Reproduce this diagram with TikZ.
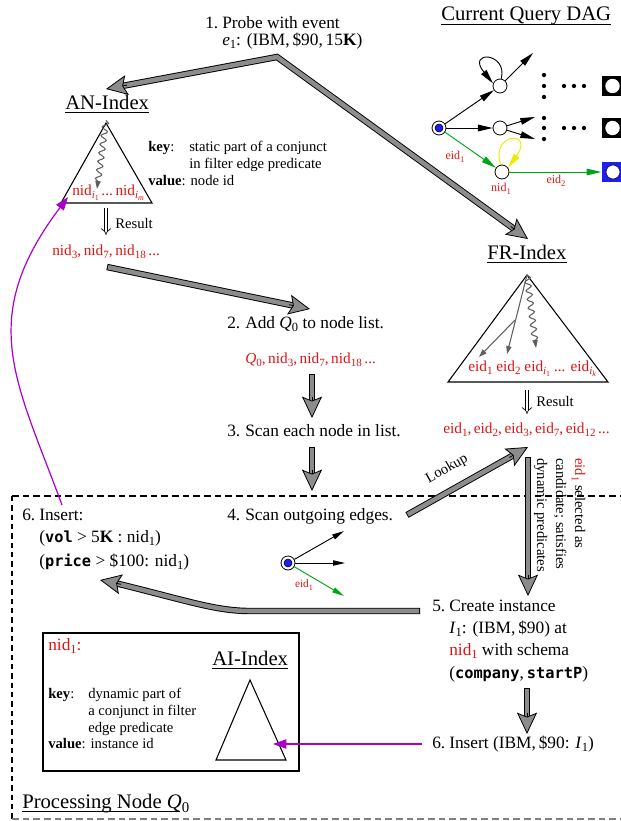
\documentclass[tikz,border=0pt]{standalone}
\usepackage{fontspec}
\usepackage{graphicx}
\setmainfont{Liberation Serif}
\newfontfamily\codefont{DejaVu Sans Mono}
\usetikzlibrary{arrows.meta,calc,decorations.pathmorphing}
\definecolor{tred}{RGB}{222,20,20}
\definecolor{fatgray}{RGB}{140,140,140}
\definecolor{mag}{RGB}{170,0,200}
\definecolor{dgreen}{RGB}{0,165,20}
\definecolor{dblue}{RGB}{30,30,240}
\definecolor{ylw}{RGB}{235,235,0}
\definecolor{wgray}{RGB}{95,95,95}
\newcommand\sbs[1]{\raisebox{-0.45ex}{\scalebox{0.72}{#1}}}
\newcommand\code[1]{{\codefont\bfseries\fontsize{11.5}{13}\selectfont #1}}
\tikzset{
  fatout/.style={line width=4.8pt, black, line join=miter},
  fatin/.style={line width=3.4pt, fatgray, line join=miter},
  fathead/.style={line width=0.6pt, draw=black, -{Stealth[length=16pt, width=15pt, inset=3pt, fill=fatgray]}},
  txt/.style={anchor=base west, inner sep=0, font=\fontsize{13}{15}\selectfont},
  sml/.style={anchor=base west, inner sep=0, font=\fontsize{11}{13}\selectfont},
  rot/.style={anchor=base west, inner sep=0, rotate=-90, font=\fontsize{11}{13}\selectfont},
  hd/.style={anchor=base west, inner sep=0, font=\fontsize{15.5}{18}\selectfont},
  redl/.style={anchor=base west, inner sep=0, text=tred, font=\fontsize{11.5}{13}\selectfont},
  tiny/.style={inner sep=0, text=tred, font=\fontsize{9}{10}\selectfont},
  dagnode/.style={circle, draw, fill=white, minimum size=10.5pt, inner sep=0, line width=0.6pt},
  dagarr/.style={line width=0.7pt, -{Triangle[length=11pt,width=5pt]}},
  smallarr/.style={line width=0.7pt, -{Triangle[length=9pt,width=4pt]}},
  treearr/.style={wgray, line width=0.8pt, -{Triangle[length=6pt,width=4pt]}},
  wavy/.style={wgray, line width=0.8pt, decorate, decoration={snake, amplitude=2.2pt, segment length=6.5pt, post length=5pt}, -{Triangle[length=6pt,width=4pt]}},
  magarr/.style={mag, line width=0.9pt, -{Triangle[length=10pt,width=7pt]}},
  tri/.style={line width=0.8pt, line join=miter},
  dbl/.style={double, double distance=2.2pt, line width=0.5pt, -{Implies}},
  dot/.style={circle, fill=black, inner sep=0, minimum size=3.2pt}
}
\newcommand\fatline[2]{%
  \draw[fatout] (#1) -- ($(#2)!12pt!(#1)$);
  \draw[fatin, shorten <=0.7pt] (#1) -- ($(#2)!12pt!(#1)$);
  \draw[fathead] ($(#2)!16pt!(#1)$) -- (#2);}
\newcommand\hdline[1]{\draw[line width=1.3pt] ([yshift=-2.7pt]#1.base west) -- ([yshift=-2.7pt]#1.base east);}
\begin{document}
\begin{tikzpicture}[x=0.75pt, y=-0.75pt]
\useasboundingbox (0,0) rectangle (621,821);

% ---------- headings ----------
\node[hd] (hdag) at (441,21) {Current Query DAG}; \hdline{hdag}
\node[hd] (han) at (65,109) {AN-Index}; \hdline{han}
\node[hd] (hfr) at (487,259) {FR-Index}; \hdline{hfr}
\node[hd] (hai) at (212,665) {AI-Index}; \hdline{hai}
\node[hd] (hpn) at (22,808) {Processing Node \textit{Q}\sbs{0}};
\draw[line width=1.3pt] ([yshift=-2.7pt]hpn.base west) -- ++(158,0);

% ---------- step 1 ----------
\node[txt] (s1n) at (205,28.5) {1.};
\node[txt] (s1a) at (222,28.5) {Probe with event};
\node[txt] (s1b) at (222,45) {\textit{e}\sbs{1}: (IBM,\,\$90,\,15\textbf{K})};

% ---------- AN index ----------
\coordinate (anA) at (106,123);
\coordinate (anL) at (61,203);
\coordinate (anR) at (152,203);
\draw[tri] (anA) -- (anL) -- (anR) -- cycle;
\coordinate (anw) at (97,189);
\draw[wavy] ([yshift=2]anA) -- (anw);
\node[redl] (anids) at (72,195) {nid\sbs{\textit{i}\sbs{1}}\,...\,nid\sbs{\textit{i}\sbs{\textit{m}}}};
\node[sml] (ank1) at (148,151.7) {\textbf{key}:};
\node[sml] (ank2) at (189,151.7) {static part of a conjunct};
\node[sml] (ank3) at (189,168) {in filter edge predicate};
\node[sml] (ank4) at (148,185) {\textbf{value}: node id};
\coordinate (and1) at (106,208);
\coordinate (and2) at (106,235);
\draw[dbl] (and1) -- (and2);
\node[sml] (anres) at (115,228) {Result};
\node[redl] (anlist) at (52,255) {nid\sbs{3},\,nid\sbs{7},\,nid\sbs{18}\,...};

% ---------- FR index ----------
\coordinate (frA) at (527,275);
\coordinate (frL) at (448,382);
\coordinate (frR) at (608,382);
\draw[tri] (frA) -- (frL) -- (frR) -- cycle;
\coordinate (frb) at (515,320);
\coordinate (frt1) at (479,357);
\coordinate (frt2) at (507,354);
\coordinate (frt3) at (536,348);
\draw[treearr] (frA) -- (frt2);
\draw[treearr] (frb) -- (frt1);
\draw[wavy] (frA) -- (frt3);
\node[redl] (frids) at (468,371) {eid\sbs{1} eid\sbs{2} eid\sbs{\textit{i}\sbs{1}} ... eid\sbs{\textit{i}\sbs{\textit{k}}}};
\coordinate (frd1) at (527,390);
\coordinate (frd2) at (527,414);
\draw[dbl] (frd1) -- (frd2);
\node[sml] (frres) at (536,406) {Result};
\node[redl] (frlist) at (443,433) {eid\sbs{1},\,eid\sbs{2},\,eid\sbs{3},\,eid\sbs{7},\,eid\sbs{12}\,...};

% ---------- Query DAG ----------
\node[dagnode] (root) at (439,128) {};
\fill[dblue, draw=black, line width=0.4pt] (root.center) circle (3pt);
\node[dagnode] (qa) at (500,86) {};
\node[dagnode] (qb) at (500,128) {};
\node[dagnode] (qn) at (502,172) {};
\coordinate (qa1) at (533,53);
\coordinate (qb1) at (535,117);
\coordinate (qb2) at (535,139);
\draw[dagarr] (root) -- (qa);
\draw[dagarr] (root) -- (qb);
\draw[dagarr, dgreen] (root) -- (qn);
\draw[dagarr] (qa) -- (qa1);
\draw[dagarr] (qb) -- (qb1);
\draw[dagarr] (qb) -- (qb2);
\draw[dagarr] (qa.80) .. controls (508,52) and (466,50) .. (qa.160);
\draw[dagarr, ylw] (qn.100) .. controls (490,132) and (535,130) .. (qn.35);
\foreach \yy/\nm in {75/a,86/b,97/c,118/d,128/e,139/f} {\node[dot] (vd\nm) at (544,\yy) {};}
\foreach \xx/\nm in {564/a,574/b,584/c} {\node[dot] (hd\nm) at (\xx,86) {}; \node[dot] (he\nm) at (\xx,128) {};}
\node[fill=black, minimum size=15pt, inner sep=0] (sq1) at (611.5,86) {};
\fill[white] (sq1.center) ++(1,0) circle (5.4pt);
\node[fill=black, minimum size=15pt, inner sep=0] (sq2) at (611.5,128) {};
\fill[white] (sq2.center) ++(1,0) circle (5.4pt);
\node[fill=dblue, minimum size=15pt, inner sep=0] (sq3) at (611.5,172) {};
\fill[white, draw=black, line width=0.4pt] (sq3.center) ++(1.5,0) circle (5.2pt);
\draw[dagarr, dgreen] (qn) -- (sq3.west);
\node[tiny] (le1) at (455,157) {eid\sbs{1}};
\node[tiny] (ln1) at (501,189) {nid\sbs{1}};
\node[tiny] (le2) at (556,181) {eid\sbs{2}};

% ---------- probe arrows ----------
\coordinate (pj) at (277,57);
\coordinate (pan) at (106,89);
\coordinate (pfr) at (528,239);
\draw[fatout] ($(pan)!12pt!(pj)$) -- (pj) -- ($(pfr)!12pt!(pj)$);
\draw[fatin] ($(pan)!12pt!(pj)$) -- (pj) -- ($(pfr)!12pt!(pj)$);
\draw[fathead] ($(pan)!16pt!(pj)$) -- (pan);
\draw[fathead] ($(pfr)!16pt!(pj)$) -- (pfr);

% ---------- steps 2,3 ----------
\coordinate (a2s) at (107,267);
\coordinate (a2t) at (310,309);
\fatline{a2s}{a2t}
\node[txt] (s2n) at (227,328) {2.};
\node[txt] (s2) at (245,328) {Add \textit{Q}\sbs{0} to node list.};
\node[redl] (q0list) at (245,363) {\textit{Q}\sbs{0},\,nid\sbs{3},\,nid\sbs{7},\,nid\sbs{18}\,...};
\coordinate (d1s) at (312,374);
\coordinate (d1t) at (312,418);
\fatline{d1s}{d1t}
\node[txt] (s3n) at (227,436) {3.};
\node[txt] (s3) at (245,436) {Scan each node in list.};
\coordinate (d2s) at (312,447);
\coordinate (d2t) at (312,491);
\fatline{d2s}{d2t}

% ---------- processing node frame ----------
\draw[line width=0.8pt, dash pattern=on 5pt off 3pt] (12,496) -- (621,496);
\draw[line width=0.8pt, dash pattern=on 4pt off 3pt] (12,496) -- (12,821);
\draw[line width=0.8pt, gray, dash pattern=on 5pt off 3pt] (12,819) -- (621,819);

% ---------- step 4 ----------
\node[txt] (s4n) at (227,520) {4.};
\node[txt] (s4) at (245,520) {Scan outgoing edges.};
\node[dagnode] (r4) at (288,563) {};
\fill[dblue, draw=black, line width=0.4pt] (r4.center) circle (3pt);
\coordinate (r4a) at (344,531);
\coordinate (r4b) at (345,563);
\coordinate (r4c) at (344,596);
\draw[smallarr] (r4) -- (r4a);
\draw[smallarr] (r4) -- (r4b);
\draw[smallarr, dgreen] (r4) -- (r4c);
\node[tiny, font=\fontsize{8.5}{10}\selectfont] (le4) at (304,585) {eid\sbs{1}};

% ---------- lookup ----------
\coordinate (lks) at (407,515);
\coordinate (lkt) at (528,447);
\fatline{lks}{lkt}
\node[rotate=29.3, inner sep=0, font=\fontsize{11}{13}\selectfont] (lk) at (447,469) {Lookup};

% ---------- candidate arrow ----------
\coordinate (d3s) at (528,457);
\coordinate (d3t) at (528,596);
\fatline{d3s}{d3t}
\node[rot] (cand1) at (575,458) {\textcolor{tred}{eid\sbs{1}} selected as};
\node[rot] (cand2) at (556,458) {candidate; satisfies};
\node[rot] (cand3) at (537,458) {dynamic predicates};

% ---------- step 6 left ----------
\node[txt] (s6ln) at (22,520) {6.};
\node[txt] (s6l) at (39,520) {Insert:};
\node[txt] (s6l2) at (39,542) {(\code{vol} > 5\textbf{K} : nid\sbs{1})};
\node[txt] (s6l3) at (39,566) {(\code{price} > \$100: nid\sbs{1})};

% ---------- step 5 ----------
\node[txt] (s5n) at (432,611) {5.};
\node[txt] (s5a) at (449,611) {Create instance};
\node[txt] (s5b) at (449,633) {\textit{I}\sbs{1}: (IBM,\,\$90) at};
\node[txt] (s5c) at (449,655) {\textcolor{tred}{nid\sbs{1}} with schema};
\node[txt] (s5d) at (449,678) {(\code{company},\,\code{startP})};

% curved arrow from step 5 to step 6 (left)
\coordinate (c5s) at (420,611);
\coordinate (c5m) at (250,611);
\coordinate (c5t) at (100,580);
\coordinate (c5h) at (121,584.3);
\coordinate (c5e) at (116,583.3);
\draw[fatout] (c5s) -- (c5m) .. controls (215,611) and (185,600) .. (c5e);
\draw[fatin, shorten <=0.7pt] (c5s) -- (c5m) .. controls (215,611) and (185,600) .. (c5e);
\draw[fathead] (c5h) -- (c5t);

\coordinate (d4s) at (527,688);
\coordinate (d4t) at (527,734);
\fatline{d4s}{d4t}
\node[txt] (s6rn) at (432,748) {6.};
\node[txt] (s6r) at (449,748) {Insert (IBM,\,\$90: \textit{I}\sbs{1})};

% ---------- AI box ----------
\draw[line width=1pt] (43,633) rectangle (299,771);
\node[anchor=base west, inner sep=0, text=tred, font=\fontsize{13}{15}\selectfont] (ainid) at (48,650) {nid\sbs{1}:};
\coordinate (aiA) at (250,680);
\coordinate (aiL) at (216,760);
\coordinate (aiR) at (286,760);
\draw[tri] (aiA) -- (aiL) -- (aiR) -- cycle;
\node[sml] (aik1) at (48,698) {\textbf{key}:};
\node[sml] (aik2) at (88,698) {dynamic part of};
\node[sml] (aik3) at (88,715) {a conjunct in filter};
\node[sml] (aik4) at (88,732) {edge predicate};
\node[sml] (aik5) at (48,748) {\textbf{value}: instance id};

% ---------- magenta arrows ----------
\coordinate (m1s) at (422,744);
\coordinate (m1t) at (273,744);
\draw[magarr] (m1s) -- (m1t);
\coordinate (m2s) at (62,505);
\coordinate (m2t) at (68,197);
\draw[magarr] (m2s) .. controls (16,380) and (-24,319) .. (m2t);

\end{tikzpicture}
\end{document}
